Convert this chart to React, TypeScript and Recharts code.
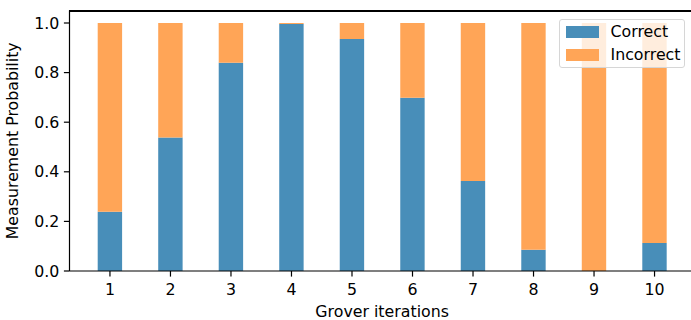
import React from 'react';
import { BarChart, Bar, XAxis, YAxis, Legend, CartesianGrid } from 'recharts';

const iterations = ['1', '2', '3', '4', '5', '6', '7', '8', '9', '10'];
const correct = [0.239, 0.538, 0.84, 0.996, 0.935, 0.699, 0.363, 0.086, 0.0, 0.113];
const incorrect = [0.761, 0.462, 0.16, 0.004, 0.065, 0.301, 0.637, 0.914, 1.0, 0.887];
const yTicks = [0, 0.2, 0.4, 0.6, 0.8, 1.0];
const yMax = 1.05;

const BLUE = '#488eb9';
const ORANGE = '#ffa557';
const FONT = '"DejaVu Sans", sans-serif';
const FS = 15.8;

const data = iterations.map((it, i) => ({ iter: it, correct: correct[i], incorrect: incorrect[i] }));

const LegendContent = () => (
  <div
    style={{
      width: 126,
      height: 49,
      boxSizing: 'border-box',
      border: '1px solid #d6d6d6',
      borderRadius: 3,
      background: 'rgba(255,255,255,0.8)',
      fontFamily: FONT,
      fontSize: FS,
      color: '#000',
      position: 'relative',
    }}
  >
    {[
      { label: 'Correct', color: BLUE, top: 6 },
      { label: 'Incorrect', color: ORANGE, top: 29 },
    ].map((e) => (
      <div key={e.label} style={{ position: 'absolute', left: 6, top: e.top, display: 'flex', alignItems: 'center', height: 12 }}>
        <div style={{ width: 33, height: 11.7, background: e.color }} />
        <span style={{ marginLeft: 12, lineHeight: '12px', whiteSpace: 'nowrap' }}>{e.label}</span>
      </div>
    ))}
  </div>
);

const topSpine = (props: any) => [Math.round(props.offset.top) + 0.5];

export default function App() {
  return (
    <div style={{ position: 'absolute', left: 0, top: 0, width: 691, height: 320, overflow: 'hidden', background: '#fff' }}>
      <BarChart
        width={700}
        height={320}
        data={data}
        margin={{ top: 10.6, right: 5.2, left: 0, bottom: 0 }}
        barCategoryGap={0}
        style={{ fontFamily: FONT }}
      >
        <CartesianGrid
          vertical={false}
          horizontal={true}
          horizontalCoordinatesGenerator={topSpine}
          stroke="#000"
          strokeWidth={1.2}
          strokeOpacity={1}
        />
        <XAxis
          dataKey="iter"
          type="category"
          height={49}
          padding={{ left: 10.2, right: 10 }}
          axisLine={{ stroke: '#000', strokeWidth: 1.2 }}
          tickLine={{ stroke: '#000', strokeWidth: 1.2 }}
          tickSize={5.6}
          tickMargin={7.6}
          tick={{ fill: '#000', fontSize: FS, fontFamily: FONT }}
          interval={0}
          label={{ value: 'Grover iterations', position: 'insideBottom', offset: 3.5, fill: '#000', fontSize: FS, fontFamily: FONT }}
        />
        <YAxis
          type="number"
          domain={[0, yMax]}
          ticks={yTicks}
          width={69.5}
          allowDataOverflow
          axisLine={{ stroke: '#000', strokeWidth: 1.2 }}
          tickLine={{ stroke: '#000', strokeWidth: 1.2 }}
          tickSize={5.6}
          tickMargin={4.5}
          tick={{ fill: '#000', fontSize: FS, fontFamily: FONT }}
          tickFormatter={(v: number) => v.toFixed(1)}
          label={{ value: 'Measurement Probability', angle: -90, position: 'insideLeft', offset: 12, fill: '#000', fontSize: FS, fontFamily: FONT, style: { textAnchor: 'middle' } }}
        />
        <Bar dataKey="correct" name="Correct" stackId="a" fill={BLUE} barSize={24.4} isAnimationActive={false} />
        <Bar dataKey="incorrect" name="Incorrect" stackId="a" fill={ORANGE} barSize={24.4} isAnimationActive={false} />
        <Legend
          content={<LegendContent />}
          layout="vertical"
          align="center"
          verticalAlign="middle"
          wrapperStyle={{ position: 'absolute', left: 558.5, top: 19, width: 126, height: 49 }}
        />
      </BarChart>
      <div style={{ position: 'absolute', left: 69, top: 10, width: 630, height: 1.2, background: '#000' }} />
    </div>
  );
}
